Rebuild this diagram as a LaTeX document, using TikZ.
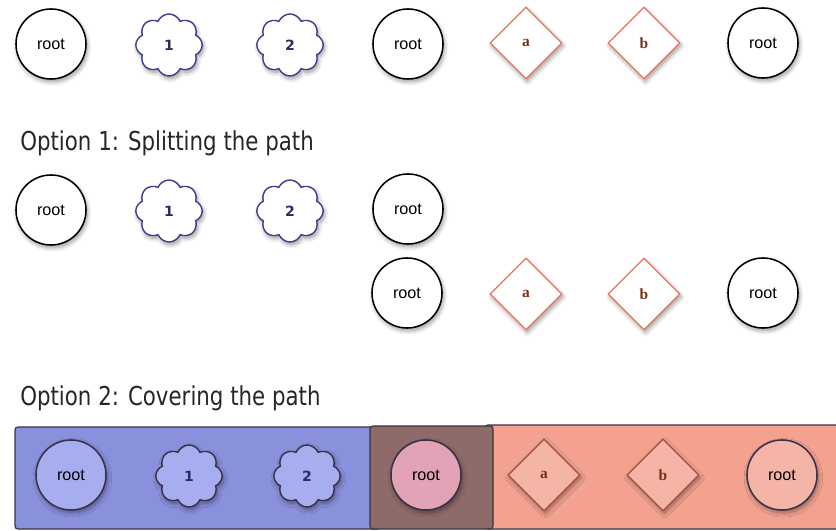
\documentclass[tikz,border=0pt]{standalone}
\usepackage{fontspec}
\setmainfont{Liberation Sans}
\newfontfamily\titlefont[FakeStretch=0.82]{DejaVu Sans}
\newfontfamily\numfont{DejaVu Sans}
\newfontfamily\letterfont{Liberation Serif}
\usepackage{xcolor}
\usepackage{tikz}
\usetikzlibrary{shapes.geometric,shapes.symbols,shadows.blur}
\definecolor{cloudblue}{HTML}{3B3F8E}
\definecolor{diamondred}{HTML}{E8735F}
\definecolor{letterbrown}{HTML}{7A2E18}
\definecolor{bandblue}{HTML}{8990DC}
\definecolor{nodeblue}{HTML}{A7AEF0}
\definecolor{bandbrown}{HTML}{8E6B68}
\definecolor{nodepink}{HTML}{E2A3B6}
\definecolor{bandsalmon}{HTML}{F3A290}
\definecolor{nodesalmon}{HTML}{F5B5A6}
\definecolor{darkrim}{HTML}{3A3048}
\tikzset{
  pathshadow/.style={
    blur shadow={shadow xshift=1pt, shadow yshift=-2pt,
      shadow blur radius=3pt, shadow blur steps=8, shadow opacity=40}
  },
  pathroot/.style={
    circle, draw=black, fill=white, line width=1.1pt,
    minimum size=1.75cm, inner sep=0pt,
    font=\fontsize{11.5}{12}\selectfont, pathshadow
  },
  pathcloud/.style={
    cloud, cloud puffs=8, cloud puff arc=135, aspect=1.05,
    draw=cloudblue, fill=white, line width=1pt,
    minimum width=1.66cm, minimum height=1.55cm, inner sep=0pt,
    font=\numfont\bfseries\fontsize{10}{12}\selectfont, text=cloudblue!70!black,
    pathshadow
  },
  pathdiamond/.style={
    diamond, aspect=1, draw=diamondred, fill=white, line width=0.9pt,
    minimum size=1.8cm, inner sep=0pt,
    font=\letterfont\bfseries\fontsize{11}{12}\selectfont, text=letterbrown,
    pathshadow
  },
  pathtitle/.style={anchor=west, inner sep=0pt,
    font=\titlefont\fontsize{18.5}{20}\selectfont, text=black!85},
  pathband/.style={rounded corners=2pt, line width=0.8pt, draw=darkrim}
}
\begin{document}
\begin{tikzpicture}[x=0.025cm,y=-0.025cm]
  \useasboundingbox (0,0) rectangle (836,531);
  \clip (0,0) rectangle (836,531);
  % the full path
  \node[pathroot] (R1) at (51,44) {root};
  \node[pathcloud] (C1) at (169,45) {1};
  \node[pathcloud] (C2) at (290,45) {2};
  \node[pathroot] (R2) at (408,44) {root};
  \node[pathdiamond] (D1) at (526,43) {a};
  \node[pathdiamond] (D2) at (644,43) {b};
  \node[pathroot] (R3) at (763,43) {root};
  % option 1
  \node[pathtitle] (T1) at (20,143) {Option 1: Splitting the path};
  \node[pathroot] (SR1) at (51,210) {root};
  \node[pathcloud] (SC1) at (169,211) {1};
  \node[pathcloud] (SC2) at (290,211) {2};
  \node[pathroot] (SR2) at (408,209) {root};
  \node[pathroot] (SR3) at (407,293) {root};
  \node[pathdiamond] (SD1) at (526,294) {a};
  \node[pathdiamond] (SD2) at (644,294) {b};
  \node[pathroot] (SR4) at (763,293) {root};
  % option 2
  \node[pathtitle] (T2) at (20,398) {Option 2: Covering the path};
  \draw[pathband, fill=bandblue] (15,427) rectangle (380,529);
  \draw[pathband, fill=bandsalmon] (485,425) rectangle (850,529);
  \draw[pathband, fill=bandbrown] (370,426) rectangle (493,529);
  \node[pathroot, draw=darkrim, fill=nodeblue] (CR1) at (71,475) {root};
  \node[pathcloud, draw=darkrim, fill=nodeblue] (CC1) at (189,476) {1};
  \node[pathcloud, draw=darkrim, fill=nodeblue] (CC2) at (307,476) {2};
  \node[pathroot, draw=darkrim, fill=nodepink] (CR2) at (426,475) {root};
  \node[pathdiamond, draw=diamondred!70!black, fill=nodesalmon] (CD1) at (544,475) {a};
  \node[pathdiamond, draw=diamondred!70!black, fill=nodesalmon] (CD2) at (663,475) {b};
  \node[pathroot, draw=darkrim, fill=nodesalmon] (CR3) at (782,475) {root};
\end{tikzpicture}
\end{document}
